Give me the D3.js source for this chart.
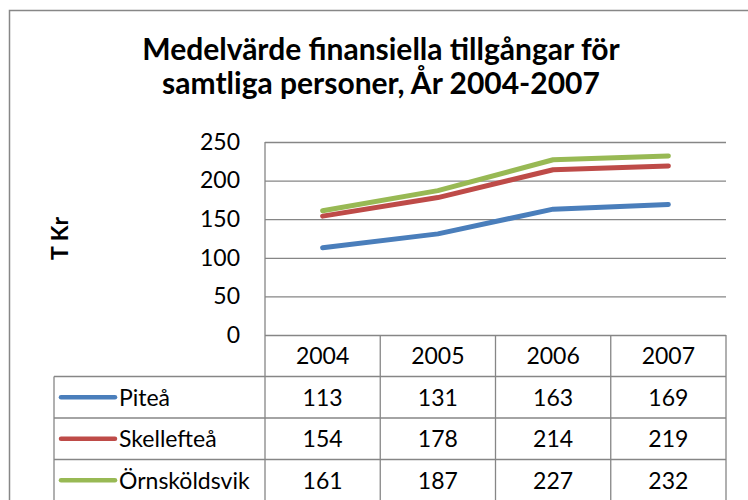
<!DOCTYPE html>
<meta charset="utf-8">
<script src="https://d3js.org/d3.v7.min.js"></script>
<style>
  body { margin: 0; background: #fff; }
  svg { display: block; font-family: Lato, "Open Sans", sans-serif; }
</style>
<div id="chart"></div>
<script>
// data
const years = ["2004", "2005", "2006", "2007"];
const seriesNames = ["Piteå", "Skellefteå", "Örnsköldsvik"];
const pitea = [113, 131, 163, 169];
const skelleftea = [154, 178, 214, 219];
const ornskoldsvik = [161, 187, 227, 232];
const yTicks = [0, 50, 100, 150, 200, 250];
const colors = ["#4a7ebb", "#be4b48", "#98b954"];
const titleLines = ["Medelvärde finansiella tillgångar för", "samtliga personer, År 2004-2007"];

const series = seriesNames.map((name, i) => ({
  name: name,
  values: [pitea, skelleftea, ornskoldsvik][i],
  color: colors[i]
}));

const width = 748, height = 500;
const plotLeft = 265, plotRight = 726, plotTop = 142, plotBottom = 335;
const legendLeft = 54;
const grid = "#868686";

const svg = d3.select("#chart").append("svg")
  .attr("width", width)
  .attr("height", height);

// outer chart border (cropped on right and bottom)
svg.append("rect")
  .attr("x", 9.5).attr("y", 10.5)
  .attr("width", 760).attr("height", 520)
  .attr("fill", "none")
  .attr("stroke", "#878787")
  .attr("stroke-width", 1.5);

// title
svg.append("text")
  .attr("x", 381)
  .attr("y", 60)
  .attr("text-anchor", "middle")
  .attr("font-weight", "bold")
  .attr("font-size", 30)
  .selectAll("tspan")
  .data(titleLines)
  .join("tspan")
  .attr("x", 381)
  .attr("dy", (d, i) => i ? 34 : 0)
  .text(d => d);

const x = d3.scaleBand().domain(years).range([plotLeft, plotRight]);
const y = d3.scaleLinear().domain([0, 250]).range([plotBottom, plotTop]);

// y axis with gridlines
svg.append("g")
  .attr("transform", `translate(${plotLeft},0)`)
  .call(d3.axisLeft(y).tickValues(yTicks).tickSize(0).tickPadding(25))
  .call(g => g.select(".domain").remove())
  .call(g => g.selectAll(".tick text")
    .attr("font-family", "Lato")
    .attr("font-size", 23)
    .attr("fill", "#000"))
  .call(g => g.selectAll(".tick line").clone()
    .attr("x2", plotRight - plotLeft)
    .attr("stroke", grid)
    .attr("stroke-width", 1.3));

// y axis title
svg.append("text")
  .attr("transform", `translate(68,${(plotTop + plotBottom) / 2}) rotate(-90)`)
  .attr("text-anchor", "middle")
  .attr("font-weight", "bold")
  .attr("font-size", 23)
  .text("T Kr");

// data table
const rows = d3.scaleBand().domain(["header"].concat(seriesNames)).range([plotBottom, 501]);
const table = svg.append("g")
  .attr("stroke", grid)
  .attr("stroke-width", 1.3);

// vertical lines
table.append("line")
  .attr("x1", plotLeft).attr("x2", plotLeft)
  .attr("y1", plotTop).attr("y2", height);
table.selectAll(".col")
  .data(years)
  .join("line")
  .attr("x1", d => x(d) + x.bandwidth()).attr("x2", d => x(d) + x.bandwidth())
  .attr("y1", plotBottom).attr("y2", height);
table.append("line")
  .attr("x1", legendLeft).attr("x2", legendLeft)
  .attr("y1", rows(seriesNames[0])).attr("y2", height);

// horizontal lines
table.selectAll(".row")
  .data(seriesNames)
  .join("line")
  .attr("x1", legendLeft).attr("x2", plotRight)
  .attr("y1", d => rows(d)).attr("y2", d => rows(d));

// header years
svg.append("g")
  .selectAll("text")
  .data(years)
  .join("text")
  .attr("x", d => x(d) + x.bandwidth() / 2)
  .attr("y", rows("header") + rows.bandwidth() / 2)
  .attr("dy", "0.36em")
  .attr("text-anchor", "middle")
  .attr("font-size", 23)
  .text(d => d);

// table rows
const rowG = svg.append("g")
  .selectAll("g")
  .data(series)
  .join("g")
  .attr("transform", d => `translate(0,${rows(d.name) + rows.bandwidth() / 2})`);

rowG.append("line")
  .attr("x1", 61).attr("x2", 115)
  .attr("stroke", d => d.color)
  .attr("stroke-width", 4.5)
  .attr("stroke-linecap", "round");

rowG.append("text")
  .attr("x", 119)
  .attr("dy", "0.36em")
  .attr("font-size", 23)
  .text(d => d.name);

rowG.selectAll(".val")
  .data(d => d.values)
  .join("text")
  .attr("x", (v, i) => x(years[i]) + x.bandwidth() / 2)
  .attr("dy", "0.36em")
  .attr("text-anchor", "middle")
  .attr("font-size", 23)
  .text(v => v);

// lines
const line = d3.line()
  .x((v, i) => x(years[i]) + x.bandwidth() / 2)
  .y(v => y(v));

svg.append("g")
  .attr("fill", "none")
  .attr("stroke-width", 5)
  .attr("stroke-linecap", "round")
  .attr("stroke-linejoin", "round")
  .selectAll("path")
  .data(series)
  .join("path")
  .attr("stroke", d => d.color)
  .attr("d", d => line(d.values));
</script>
